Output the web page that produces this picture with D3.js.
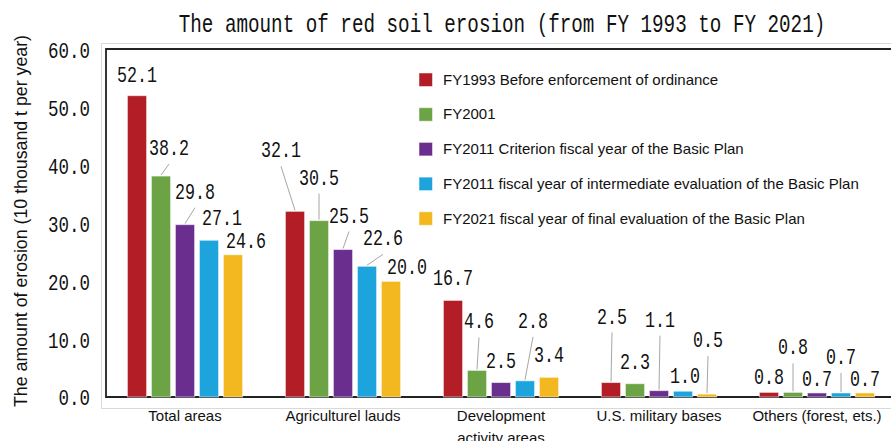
<!DOCTYPE html>
<html><head><meta charset="utf-8">
<script src="https://cdn.jsdelivr.net/npm/d3@7/dist/d3.min.js"></script>
<style>body{margin:0;background:#fff}svg{display:block}</style>
</head><body><svg id="c" width="891" height="441"></svg>
<script>
const categories = ["Total areas","Agriculturel lauds","Development\nactivity areas","U.S. military bases","Others (forest, ets.)"];
const seriesNames = ["FY1993 Before enforcement of ordinance","FY2001","FY2011 Criterion fiscal year of the Basic Plan","FY2011 fiscal year of intermediate evaluation of the Basic Plan","FY2021 fiscal year of final evaluation of the Basic Plan"];
const fy1993 = [52.1, 32.1, 16.7, 2.5, 0.8];
const fy2001 = [38.2, 30.5, 4.6, 2.3, 0.8];
const fy2011a = [29.8, 25.5, 2.5, 1.1, 0.7];
const fy2011b = [27.1, 22.6, 2.8, 1.0, 0.7];
const fy2021 = [24.6, 20.0, 3.4, 0.5, 0.7];
const yTicks = [0,10,20,30,40,50,60];
const colors = ["#B31D25","#6CA445","#6A2F8E","#1EA4DD","#F3B81F"];
// label layout: [dx from bar centre, dy baseline above bar top, leader?]
const labelLayout = [
  [[0,-14,0],[8,-21,1],[10,-26,1],[13,-15,0],[13,-7,0]],
  [[-14,-54,1],[0,-36,1],[6,-27,1],[16,-21,1],[16,-7,0]],
  [[0,-15,0],[2,-42,1],[0,-15,0],[8,-53,1],[0,-15,0]],
  [[1,-59,1],[0,-15,0],[1,-64,1],[2,-8,0],[1,-47,1]],
  [[0,-8,0],[0,-38,1],[0,-7,0],[0,-29,1],[0,-7,0]]
];
const series = [fy1993, fy2001, fy2011a, fy2011b, fy2021];

const svg = d3.select("#c");
const W = 891, H = 441;
const plotL = 106, plotT = 49, plotB = 397;
const y = d3.scaleLinear().domain([0,60]).range([plotB, plotT+1]);
const x0 = d3.scaleBand().domain(d3.range(categories.length)).range([106, 896]);
const x1 = d3.scaleBand().domain(d3.range(series.length)).range([0,120]).paddingInner(0.2).paddingOuter(0.1);
const off = (x0.bandwidth()-120)/2;

// frames
svg.append("rect").attr("x",101.5).attr("y",43.5).attr("width",900).attr("height",365)
  .attr("fill","none").attr("stroke","#d9d9d9").attr("stroke-width",1);
svg.append("path").attr("d",`M${W+5},${plotT}H${plotL}V${plotB}H${W+5}`)
  .attr("fill","none").attr("stroke","#222").attr("stroke-width",1.8);

// title
svg.append("text").attr("transform","translate(502,32) scale(0.77,1)").attr("text-anchor","middle")
  .attr("font-family","Liberation Mono").attr("font-size",25).attr("fill","#111")
  .text("The amount of red soil erosion (from FY 1993 to FY 2021)");

// y axis
const yAxis = d3.axisLeft(y).tickValues(yTicks).tickSize(0).tickPadding(0).tickFormat(d3.format(".1f"));
const ya = svg.append("g").attr("transform","translate(90,0)").call(yAxis);
ya.select(".domain").remove();
ya.selectAll("text").attr("font-family","Liberation Mono").attr("font-size",22).attr("fill","#111")
  .attr("dy","0.36em")
  .attr("textLength",function(){return this.textContent.length*10.5;}).attr("lengthAdjust","spacingAndGlyphs");

svg.append("text").attr("transform","translate(27,221) rotate(-90)").attr("text-anchor","middle")
  .attr("font-family","Liberation Sans").attr("font-size",18).attr("fill","#111")
  .attr("textLength",372).attr("lengthAdjust","spacingAndGlyphs")
  .text("The amount of erosion (10 thousand t per year)");

// bars
const groups = svg.append("g").selectAll("g").data(categories).join("g")
  .attr("transform",(d,i)=>`translate(${x0(i)+off},0)`);
groups.each(function(cat, ci){
  const g = d3.select(this);
  series.forEach((s, si)=>{
    const v = s[ci];
    const bx = x1(si), bw = x1.bandwidth();
    g.append("rect").attr("x",bx).attr("y",y(v)).attr("width",bw).attr("height",plotB-y(v))
      .attr("fill",colors[si]).attr("stroke","rgba(255,255,255,0.55)").attr("stroke-width",1);
    const [dx, dy, lead] = labelLayout[ci][si];
    const cx = bx + bw/2, top = y(v);
    const lx = cx + dx, ly = top + dy;
    if (lead) {
      g.append("line").attr("x1",lx).attr("y1",ly+9).attr("x2",cx).attr("y2",top-1)
        .attr("stroke","#a6a6a6").attr("stroke-width",1);
    }
    const t = v.toFixed(1);
    g.append("text").attr("x",lx).attr("y",ly).attr("text-anchor","middle")
      .attr("font-family","Liberation Mono").attr("font-size",22).attr("fill","#111")
      .attr("textLength",t.length*10).attr("lengthAdjust","spacingAndGlyphs").text(t);
  });
});

// category labels
categories.forEach((c,i)=>{
  const lines = c.split("\n");
  const t = svg.append("text").attr("x",x0(i)+x0.bandwidth()/2).attr("y",421).attr("text-anchor","middle")
    .attr("font-family","Liberation Sans").attr("font-size",15).attr("fill","#111");
  lines.forEach((l,k)=>t.append("tspan").attr("x",x0(i)+x0.bandwidth()/2).attr("dy",k?22:0).text(l));
});

// legend
const leg = svg.append("g").selectAll("g").data(seriesNames).join("g")
  .attr("transform",(d,i)=>`translate(419,${79.5+i*34.7})`);
leg.append("rect").attr("x",0).attr("y",-6.5).attr("width",13.5).attr("height",13.5).attr("fill",(d,i)=>colors[i])
  .attr("stroke","rgba(255,255,255,0.5)");
leg.append("text").attr("x",24).attr("y",0).attr("dy","0.35em").attr("font-family","Liberation Sans")
  .attr("font-size",15).attr("fill","#111").text(d=>d);
</script></body></html>
